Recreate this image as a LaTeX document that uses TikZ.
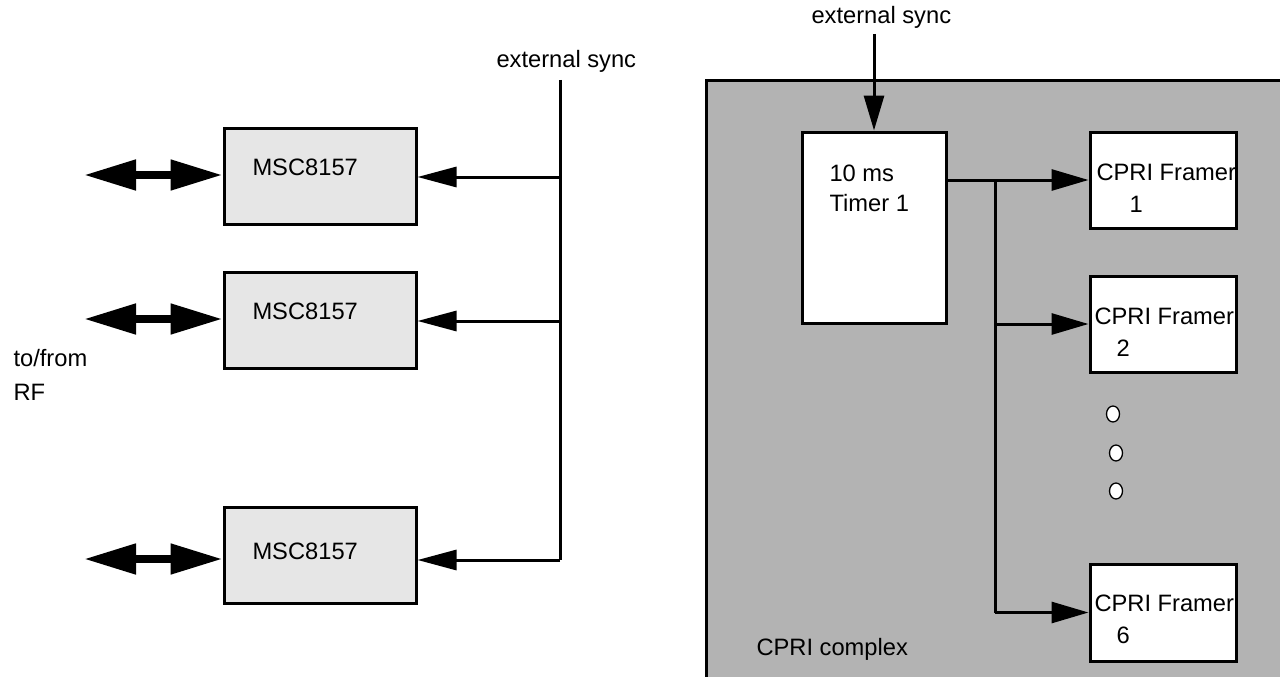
\documentclass[tikz,border=0pt]{standalone}
\usepackage{fontspec}
\setmainfont{Liberation Sans}
\usetikzlibrary{arrows.meta,calc,shapes.geometric}
\definecolor{mscfill}{HTML}{E6E6E6}
\definecolor{cplxgray}{HTML}{B3B3B3}
\begin{document}
\begin{tikzpicture}[x=1pt,y=-1pt, line width=3pt,
  txt/.style={font=\fontsize{23.7}{28}\selectfont, inner sep=0pt, anchor=base west},
  mscbox/.style={draw, fill=mscfill, minimum width=192pt, minimum height=96pt, inner sep=0pt},
  whitebox/.style={draw, fill=white, inner sep=0pt},
  syncarrow/.style={-{Triangle[length=39pt,width=20pt]}},
  framerarrow/.style={-{Triangle[length=37pt,width=21pt]}},
  rfarrow/.style={line width=8pt, {Triangle[length=52pt,width=29pt]}-{Triangle[length=52pt,width=29pt]}},
  dotc/.style={draw, fill=white, line width=1.3pt, ellipse, inner sep=0pt, minimum width=13pt, minimum height=16pt}
]
\useasboundingbox (0,0) rectangle (1280,677);
\clip (0,0) rectangle (1280,677);

% ---------- left part ----------
\node[mscbox] (m1) at (320,176.5) {};
\node[mscbox] (m2) at (320,320) {};
\node[mscbox] (m3) at (320,555) {};
\node[txt] (t1) at (251,175.5) {MSC8157};
\node[txt] (t2) at (251,319.5) {MSC8157};
\node[txt] (t3) at (251,559.5) {MSC8157};

\node[txt] (es1) at (495,68) {external sync};
\coordinate (bustop) at (560,80);
\coordinate (bus1) at (560,177);
\coordinate (bus2) at (560,321);
\coordinate (bus3) at (560,560);
\draw (bustop) -- (bus3);
\draw[syncarrow] (bus1) -- (m1.east |- bus1);
\draw[syncarrow] (bus2) -- (m2.east |- bus2);
\draw[syncarrow] (bus3) -- (m3.east |- bus3);

\coordinate (rf1) at (84,175);
\coordinate (rf2) at (84,319);
\coordinate (rf3) at (84,559);
\draw[rfarrow] (rf1) -- (m1.west |- rf1);
\draw[rfarrow] (rf2) -- (m2.west |- rf2);
\draw[rfarrow] (rf3) -- (m3.west |- rf3);

\node[txt] (tofrom) at (12,366.5) {to/from};
\node[txt] (rf) at (12,400.5) {RF};

% ---------- right part ----------
\node[draw, fill=cplxgray, anchor=north west, minimum width=620pt, minimum height=640pt, inner sep=0pt] (cplx) at (705,79) {};
\node[txt] (cplxlabel) at (755,655) {CPRI complex};

\node[whitebox, minimum width=144pt, minimum height=191pt] (timer) at (874,227.5) {};
\node[txt] (tm1) at (828,181.5) {10 ms};
\node[txt] (tm2) at (828,211.5) {Timer 1};

\node[txt] (es2) at (810,24) {external sync};
\coordinate (es2end) at (874,34);
\draw[-{Triangle[length=35pt,width=20pt]}] (es2end) -- (timer.north);

\node[whitebox, minimum width=146pt, minimum height=96pt] (f1) at (1163,180) {};
\node[whitebox, minimum width=146pt, minimum height=96pt] (f2) at (1163,324) {};
\node[whitebox, minimum width=146pt, minimum height=97pt] (f6) at (1163,612.5) {};
\node[txt] (f1a) at (1095,180.5) {CPRI Framer};
\node[txt] (f1b) at (1128,212.5) {1};
\node[txt] (f2a) at (1093,324.5) {CPRI Framer};
\node[txt] (f2b) at (1115,356.5) {2};
\node[txt] (f6a) at (1093,611.5) {CPRI Framer};
\node[txt] (f6b) at (1115,643.5) {6};

\coordinate (br1) at (995,180);
\coordinate (br2) at (995,324);
\coordinate (br6) at (995,612.5);
\draw[framerarrow] (timer.east |- f1.west) -- (f1.west);
\draw (br1) -- (br6);
\draw[framerarrow] (br2) -- (f2.west);
\draw[framerarrow] (br6) -- (f6.west);

\node[dotc] (d1) at (1113,414) {};
\node[dotc] (d2) at (1116,453) {};
\node[dotc] (d3) at (1116,491) {};
\end{tikzpicture}
\end{document}
